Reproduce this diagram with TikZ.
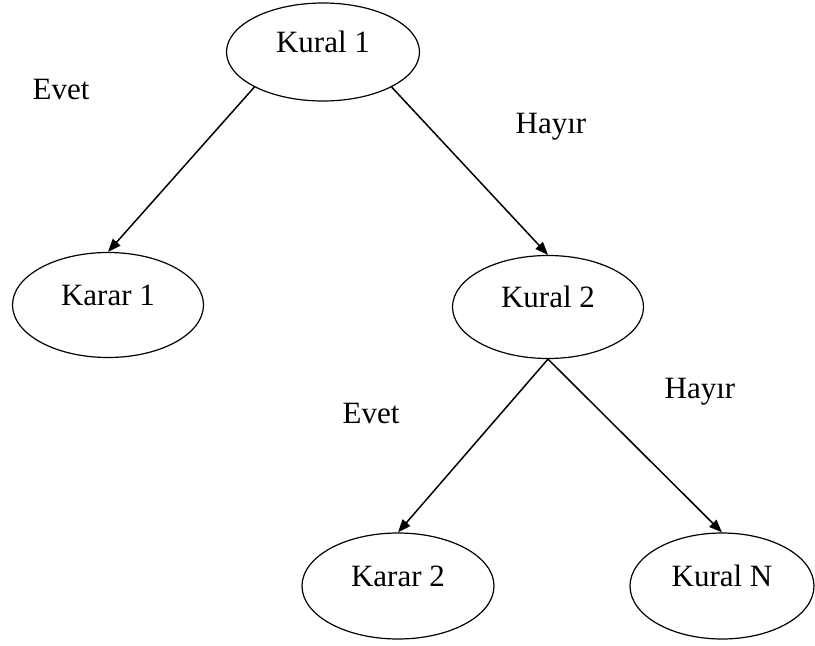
\documentclass[tikz,border=0pt]{standalone}
\usepackage{fontspec}
\setmainfont{Liberation Serif}
\usetikzlibrary{shapes.geometric,arrows.meta}
\begin{document}
\begin{tikzpicture}[x=1pt,y=-1pt,
  txt/.style={font=\fontsize{31}{37}\selectfont},
  oval/.style={txt, draw, ellipse, line width=1.2pt, inner sep=0pt,
    text height=21pt, text depth=20pt},
  lbl/.style={txt, anchor=base, inner sep=0pt},
  link/.style={line width=1.5pt, -{Triangle[length=13pt,width=10pt]}}
]
\useasboundingbox (0,0) rectangle (815,646);

% rule and decision nodes
\node[oval, minimum width=193pt, minimum height=98pt]  (k1) at (323,52)  {Kural 1};
\node[oval, minimum width=191pt, minimum height=105pt] (d1) at (108,305) {Karar 1};
\node[oval, minimum width=191pt, minimum height=103pt] (k2) at (548,307) {Kural 2};
\node[oval, minimum width=192pt, minimum height=106pt] (d2) at (398,586) {Karar 2};
\node[oval, minimum width=184pt, minimum height=106pt] (kn) at (722,586) {Kural N};

% branch labels
\node[lbl] (e1) at (61,99)  {Evet};
\node[lbl] (h1) at (551,133) {Hayır};
\node[lbl] (e2) at (371,423) {Evet};
\node[lbl] (h2) at (700,398) {Hayır};

% branches
\draw[link] (k1.south west) -- (d1.north);
\draw[link] (k1.south east) -- (k2.north);
\draw[link] (k2.south) -- (d2.north);
\draw[link] (k2.south) -- (kn.north);
\end{tikzpicture}
\end{document}
